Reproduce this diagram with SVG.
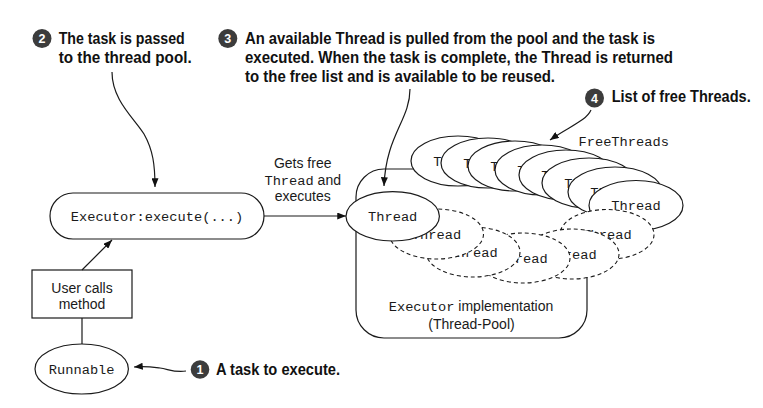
<svg xmlns="http://www.w3.org/2000/svg" width="763" height="408" viewBox="0 0 763 408">
<style>
.ln{fill:none;stroke:#1a1a1a;stroke-width:1.2}
.sh{fill:#fff;stroke:#1a1a1a;stroke-width:1.2}
.ds{fill:#fff;stroke:#1a1a1a;stroke-width:1.1;stroke-dasharray:4 3}
.mono{font-family:"Liberation Mono","Courier New",monospace;font-size:13.7px;fill:#1a1a1a}
.sans{font-family:"Liberation Sans",Arial,sans-serif;font-size:14px;fill:#1a1a1a}
.co{font-family:"Liberation Sans",Arial,sans-serif;font-size:15px;font-weight:bold;fill:#111}
.num{fill:#3c3c3c}
.numt{font-family:"Liberation Sans",Arial,sans-serif;font-size:12.5px;font-weight:bold;fill:#fff;text-anchor:middle}
.mid{text-anchor:middle}
</style>
<defs>
<marker id="ah" viewBox="0 0 10 8" refX="10" refY="4" markerWidth="9" markerHeight="7" markerUnits="userSpaceOnUse" orient="auto">
<path d="M0,0 L10,4 L0,8 z" fill="#111"/>
</marker>
</defs>
<rect width="763" height="408" fill="#fff"/>

<g id="pool">
<rect class="sh" x="356" y="169" width="231" height="169" rx="28" ry="28"/>
<text class="sans mid" x="471" y="311"><tspan class="mono">Executor</tspan> implementation</text>
<text class="sans mid" x="471.5" y="328.5">(Thread-Pool)</text>
</g>

<g id="free-threads">
<ellipse class="sh" cx="458" cy="161" rx="47" ry="25"/><text class="mono mid" x="458" y="165.5">Thread</text>
<ellipse class="sh" cx="488" cy="163" rx="47" ry="25"/><text class="mono mid" x="488" y="167.5">Thread</text>
<ellipse class="sh" cx="515" cy="166" rx="47" ry="25"/><text class="mono mid" x="515" y="170.5">Thread</text>
<ellipse class="sh" cx="542" cy="170" rx="47" ry="25"/><text class="mono mid" x="542" y="174.5">Thread</text>
<ellipse class="sh" cx="566" cy="175" rx="47" ry="25"/><text class="mono mid" x="566" y="179.5">Thread</text>
<ellipse class="sh" cx="589" cy="183" rx="47" ry="25"/><text class="mono mid" x="589" y="187.5">Thread</text>
<ellipse class="sh" cx="615" cy="192" rx="47" ry="25"/><text class="mono mid" x="615" y="196.5">Thread</text>
<ellipse class="sh" cx="636" cy="205.5" rx="47" ry="25"/><text class="mono mid" x="636" y="210">Thread</text>
<text class="mono" x="578.5" y="146">FreeThreads</text>
</g>

<g id="busy-threads">
<ellipse class="ds" cx="607" cy="234.5" rx="47" ry="25"/><text class="mono mid" x="607" y="239">Thread</text>
<ellipse class="ds" cx="572" cy="254" rx="47" ry="25"/><text class="mono mid" x="572" y="258.5">Thread</text>
<ellipse class="ds" cx="523" cy="258" rx="47" ry="25"/><text class="mono mid" x="523" y="262.5">Thread</text>
<ellipse class="ds" cx="473" cy="252" rx="47" ry="25"/><text class="mono mid" x="473" y="256.5">Thread</text>
<ellipse class="ds" cx="436.5" cy="234" rx="47" ry="25"/><text class="mono mid" x="436.5" y="238.5">Thread</text>
</g>

<g id="active-thread">
<ellipse class="sh" cx="392.7" cy="216.3" rx="46.7" ry="24.7"/>
<text class="mono mid" x="392.7" y="220.7">Thread</text>
</g>

<g id="executor">
<rect class="sh" x="50" y="193" width="214" height="46" rx="23" ry="23"/>
<text class="mono mid" x="157" y="220.5">Executor:execute(...)</text>
</g>

<g id="user-calls">
<rect class="sh" x="32" y="270" width="100" height="48"/>
<text class="sans mid" x="82" y="292.5">User calls</text>
<text class="sans mid" x="82" y="309.3">method</text>
</g>

<g id="runnable">
<ellipse class="sh" cx="81.7" cy="369" rx="46.7" ry="25"/>
<text class="mono mid" x="81.7" y="373.5">Runnable</text>
</g>

<g id="connectors">
<line class="ln" x1="264" y1="216" x2="346" y2="216" marker-end="url(#ah)"/>
<line class="ln" x1="82" y1="270" x2="112" y2="240" marker-end="url(#ah)"/>
<line class="ln" x1="82" y1="318" x2="82" y2="344"/>
<path class="ln" d="M112,72 C112,100 134,118 144,134 C153,150 155,165 155,187" marker-end="url(#ah)"/>
<path class="ln" d="M410,89 C410,120 386,135 384,186" marker-end="url(#ah)"/>
<path class="ln" d="M591,110 C586,121 570,126 550,140" marker-end="url(#ah)"/>
<path class="ln" d="M186,371 C175,373 168,369 160,368 C152,367 145,366 134,367" marker-end="url(#ah)"/>
<text class="sans mid" x="302.7" y="168">Gets free</text>
<text class="sans mid" x="302.7" y="184.5"><tspan class="mono">Thread</tspan> and</text>
<text class="sans mid" x="302.7" y="201">executes</text>
</g>

<g id="callout-1">
<circle class="num" cx="200" cy="369.5" r="9.3"/>
<text class="numt" x="200" y="374">1</text>
<text class="co" transform="translate(216,375) scale(1,1.12)" textLength="124" lengthAdjust="spacingAndGlyphs">A task to execute.</text>
</g>

<g id="callout-2">
<circle class="num" cx="42" cy="38.5" r="9.5"/>
<text class="numt" x="42" y="43">2</text>
<text class="co" transform="translate(58.7,44.3) scale(1,1.12)" textLength="126" lengthAdjust="spacingAndGlyphs">The task is passed</text>
<text class="co" transform="translate(58.7,63.3) scale(1,1.12)" textLength="133" lengthAdjust="spacingAndGlyphs">to the thread pool.</text>
</g>

<g id="callout-3">
<circle class="num" cx="227.8" cy="38.5" r="9.5"/>
<text class="numt" x="227.8" y="43">3</text>
<text class="co" transform="translate(245,44.3) scale(1,1.12)" textLength="410" lengthAdjust="spacingAndGlyphs">An available Thread is pulled from the pool and the task is</text>
<text class="co" transform="translate(245,63.3) scale(1,1.12)" textLength="428" lengthAdjust="spacingAndGlyphs">executed. When the task is complete, the Thread is returned</text>
<text class="co" transform="translate(245,82) scale(1,1.12)" textLength="310" lengthAdjust="spacingAndGlyphs">to the free list and is available to be reused.</text>
</g>

<g id="callout-4">
<circle class="num" cx="594.5" cy="98" r="9.5"/>
<text class="numt" x="594.5" y="102.5">4</text>
<text class="co" transform="translate(611.7,101.7) scale(1,1.12)" textLength="139" lengthAdjust="spacingAndGlyphs">List of free Threads.</text>
</g>
</svg>
